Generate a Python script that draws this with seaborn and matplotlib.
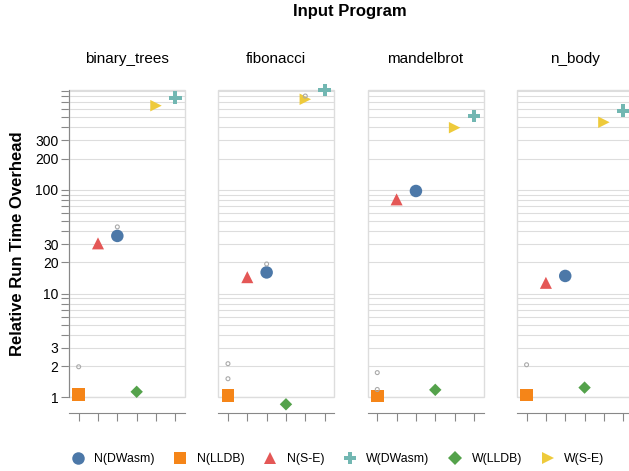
# Faceted log-scale scatter of run time overhead per input program
import seaborn as sns
import matplotlib.pyplot as plt
import pandas as pd
from matplotlib.lines import Line2D
from matplotlib.patches import Rectangle

programs = ["binary_trees", "fibonacci", "mandelbrot", "n_body"]
tools = ["N(DWasm)", "N(LLDB)", "N(S-E)", "W(DWasm)", "W(LLDB)", "W(S-E)"]
x_order = ["N(LLDB)", "N(S-E)", "N(DWasm)", "W(LLDB)", "W(S-E)", "W(DWasm)"]

# overhead per tool, one value per program (same order as programs)
n_dwasm = [36, 16.0, 97.6, 14.8]
n_lldb = [1.07, 1.04, 1.03, 1.05]
n_se = [30.5, 14.4, 81, 12.7]
w_dwasm = [775, 919, 516, 581]
w_lldb = [1.13, 0.856, 1.18, 1.24]
w_se = [649, 748, 398, 449]

# small grey points
extra_program = ["binary_trees", "binary_trees", "fibonacci", "fibonacci", "fibonacci",
                 "fibonacci", "mandelbrot", "mandelbrot", "n_body"]
extra_tool = ["N(LLDB)", "N(DWasm)", "N(LLDB)", "N(LLDB)", "N(DWasm)",
              "W(S-E)", "N(LLDB)", "N(LLDB)", "N(LLDB)"]
extra_value = [1.97, 44, 2.11, 1.51, 19.3, 804, 1.73, 1.19, 2.06]

palette = {"N(DWasm)": "#4c78a8", "N(LLDB)": "#f58518", "N(S-E)": "#e45756",
           "W(DWasm)": "#72b7b2", "W(LLDB)": "#54a24b", "W(S-E)": "#eeca3b"}
markers = {"N(DWasm)": "o", "N(LLDB)": "s", "N(S-E)": "^",
           "W(DWasm)": "P", "W(LLDB)": "D", "W(S-E)": ">"}
sizes = {"N(DWasm)": 81, "N(LLDB)": 83, "N(S-E)": 75,
         "W(DWasm)": 80, "W(LLDB)": 40, "W(S-E)": 68}

values = [n_dwasm, n_lldb, n_se, w_dwasm, w_lldb, w_se]
rows = []
for tool, vals in zip(tools, values):
    for prog, v in zip(programs, vals):
        rows.append({"program": prog, "tool": tool, "value": v})
df = pd.DataFrame(rows)
pos_map = {t: i for i, t in enumerate(x_order)}
df["pos"] = df["tool"].map(pos_map)

extra = pd.DataFrame({"program": extra_program, "tool": extra_tool, "value": extra_value})
extra["pos"] = extra["tool"].map(pos_map)

plt.rcParams["font.family"] = ["Liberation Sans", "DejaVu Sans"]

W, H = 629, 471
fig = plt.figure(figsize=(W / 100, H / 100), dpi=100)

yticks = [m * 10 ** e for e in range(3) for m in range(1, 10)]
ylabels = [str(t) if m in (1, 2, 3) else "" for t, m in zip(yticks, [m for e in range(3) for m in range(1, 10)])]

axis_col = "#888888"
grid_col = "#dddddd"

for i, prog in enumerate(programs):
    left = 69 + i * 149.3
    ax = fig.add_axes([left / W, (H - 397.3) / H, 116 / W, 307.3 / H])
    sub = df[df["program"] == prog]
    sns.scatterplot(data=sub, x="pos", y="value", hue="tool", style="tool", size="tool",
                    palette=palette, markers=markers, sizes=sizes, linewidth=0,
                    legend=False, ax=ax, zorder=3)
    ex = extra[extra["program"] == prog]
    sns.scatterplot(data=ex, x="pos", y="value", color="none", edgecolor="#aaaaaa",
                    linewidth=0.8, s=8, legend=False, ax=ax, zorder=4)
    for c in ax.collections:
        c.set_clip_on(False)

    ax.set_yscale("log")
    ax.set_ylim(1, 919)
    ax.set_xlim(-0.5, 5.5)
    ax.set_yticks(yticks)
    ax.set_yticklabels(ylabels)
    ax.minorticks_off()
    ax.set_xticks(range(6))
    ax.set_xticklabels([])
    ax.set_xlabel("")
    ax.set_ylabel("")
    ax.yaxis.grid(True, color=grid_col, linewidth=0.8)
    ax.set_axisbelow(True)

    for s in ["top", "right"]:
        ax.spines[s].set_visible(False)
    ax.spines["bottom"].set_position(("outward", 11.5))
    ax.spines["bottom"].set_color(axis_col)
    ax.spines["bottom"].set_linewidth(0.8)
    ax.tick_params(axis="x", length=6, width=0.8, color=axis_col)
    ax.add_patch(Rectangle((0, 0), 1, 1, transform=ax.transAxes, fill=False,
                           edgecolor=grid_col, linewidth=1, zorder=1, clip_on=False))
    if i == 0:
        ax.spines["left"].set_color(axis_col)
        ax.spines["left"].set_linewidth(0.8)
        ax.tick_params(axis="y", length=5.5, width=0.8, color=axis_col,
                       labelsize=10, pad=2, labelcolor="#000000")
    else:
        ax.spines["left"].set_visible(False)
        ax.tick_params(axis="y", length=0, labelleft=False)

    fig.text((left + 58) / W, 1 - 63 / H, prog, ha="center", va="baseline", fontsize=11)

fig.text(349.5 / W, 1 - 11.5 / H, "Input Program", ha="center", va="center",
         fontsize=12, fontweight="bold")
fig.text(17.5 / W, 1 - 244 / H, "Relative Run Time Overhead", ha="center", va="center",
         rotation=90, fontsize=12, fontweight="bold")

ms = {"N(DWasm)": 9, "N(LLDB)": 9.1, "N(S-E)": 8.7, "W(DWasm)": 8.9, "W(LLDB)": 7.0, "W(S-E)": 8.2}
handles = [Line2D([], [], linestyle="none", marker=markers[t], markersize=ms[t],
                  markerfacecolor=palette[t], markeredgewidth=0, label=t) for t in tools]
fig.legend(handles=handles, loc="center", bbox_to_anchor=(338 / W, 1 - 459 / H), ncol=6,
           frameon=False, fontsize=8.8, handlelength=1.0, handletextpad=0.85,
           columnspacing=1.6)

fig.savefig("out.png", dpi=100)
